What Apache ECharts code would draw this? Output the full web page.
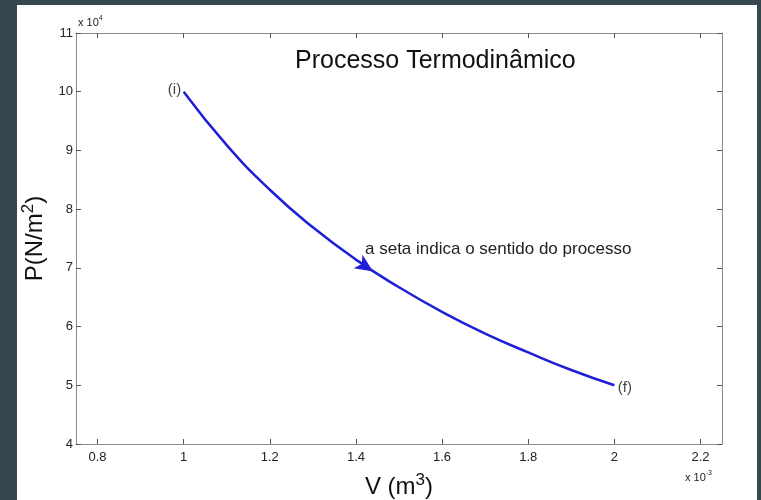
<!DOCTYPE html>
<html>
<head>
<meta charset="utf-8">
<script src="https://cdn.jsdelivr.net/npm/echarts@6/dist/echarts.min.js"></script>
<style>
html,body{margin:0;padding:0;width:761px;height:500px;background:#37474f;overflow:hidden;}
#chart{position:absolute;left:17px;top:5px;width:740px;height:495px;background:#ffffff;}
</style>
</head>
<body>
<div id="chart"></div>
<script>
// Volume in units of 10^-3 m^3, pressure in units of 10^4 N/m^2
const volume = [1.0, 1.1, 1.2, 1.3, 1.4, 1.5, 1.6, 1.7, 1.8, 1.9, 2.0];
const pressure = [10.0, 9.09, 8.33, 7.69, 7.14, 6.67, 6.25, 5.88, 5.56, 5.26, 5.0];
const xTicks = [0.8, 1, 1.2, 1.4, 1.6, 1.8, 2, 2.2];
const yTicks = [4, 5, 6, 7, 8, 9, 10, 11];
const endLabels = ['(i)', '(f)'];
const arrowPoint = [1.44, 6.94];

const FONT = '"Liberation Sans", Arial, sans-serif';
const BLUE = '#1f1fd8';

const lineData = volume.map((v, i) => [v, pressure[i]]);
const last = volume.length - 1;
const endData = [
  { value: [volume[0], pressure[0]], label: { formatter: endLabels[0], position: 'left', distance: 2, offset: [0, -2] } },
  { value: [volume[last], pressure[last]], label: { formatter: endLabels[1], position: 'right', distance: 3, offset: [0, 3] } }
];

const chart = echarts.init(document.getElementById('chart'), null, { renderer: 'canvas' });

const axisLineStyle = { color: '#8a8a8a', width: 1 };
const tickStyle = { color: '#555', width: 1 };

chart.setOption({
  backgroundColor: '#ffffff',
  animation: false,
  textStyle: { fontFamily: FONT },
  title: {
    text: 'Processo Termodinâmico',
    left: 278,
    top: 44,
    padding: 0,
    textStyle: { fontFamily: FONT, fontSize: 25, fontWeight: 'normal', color: '#111' }
  },
  grid: { left: 59, right: 35, top: 28, bottom: 56, show: false, containLabel: false, outerBoundsMode: 'none' },
  xAxis: [
    {
      type: 'value', min: 0.75, max: 2.25, position: 'bottom',
      axisLine: { show: true, onZero: false, lineStyle: axisLineStyle },
      axisTick: { show: true, inside: true, length: 5, customValues: xTicks, lineStyle: tickStyle },
      axisLabel: { customValues: xTicks, color: '#222', fontSize: 13, margin: 7, fontFamily: FONT },
      splitLine: { show: false },
      name: 'V (m{sup|3})',
      nameLocation: 'middle',
      nameGap: 28,
      nameTextStyle: {
        fontFamily: FONT, fontSize: 24, color: '#111',
        rich: { sup: { fontSize: 17, fontFamily: FONT, color: '#111', padding: [0, 0, 14, 0] } }
      }
    },
    {
      type: 'value', min: 0.75, max: 2.25, position: 'top',
      axisLine: { show: true, onZero: false, lineStyle: axisLineStyle },
      axisTick: { show: true, inside: true, length: 5, customValues: xTicks, lineStyle: tickStyle },
      axisLabel: { show: false },
      splitLine: { show: false }
    }
  ],
  yAxis: [
    {
      type: 'value', min: 4, max: 11, interval: 1, position: 'left',
      axisLine: { show: true, onZero: false, lineStyle: axisLineStyle },
      axisTick: { show: true, inside: true, length: 5, lineStyle: tickStyle },
      axisLabel: { color: '#222', fontSize: 13, margin: 3, fontFamily: FONT },
      splitLine: { show: false },
      name: 'P(N/m{sup|2})',
      nameLocation: 'middle',
      nameGap: 24,
      nameTextStyle: {
        fontFamily: FONT, fontSize: 24, color: '#111',
        rich: { sup: { fontSize: 17, fontFamily: FONT, color: '#111', padding: [0, 0, 14, 0] } }
      }
    },
    {
      type: 'value', min: 4, max: 11, interval: 1, position: 'right',
      axisLine: { show: true, onZero: false, lineStyle: axisLineStyle },
      axisTick: { show: true, inside: true, length: 5, lineStyle: tickStyle },
      axisLabel: { show: false },
      splitLine: { show: false }
    }
  ],
  series: [
    {
      type: 'line',
      xAxisIndex: 0, yAxisIndex: 0,
      data: lineData,
      smooth: true,
      showSymbol: false,
      symbol: 'none',
      lineStyle: { color: BLUE, width: 2.5 },
      itemStyle: { color: BLUE },
      emphasis: { disabled: true },
      markPoint: {
        silent: true,
        data: [{
          coord: arrowPoint,
          symbol: 'arrow',
          symbolSize: [12, 18],
          symbolRotate: -123,
          itemStyle: { color: BLUE },
          label: { show: false }
        }]
      }
    },
    {
      type: 'scatter',
      xAxisIndex: 0, yAxisIndex: 0,
      data: endData,
      symbolSize: 1,
      itemStyle: { color: 'rgba(0,0,0,0)' },
      label: { show: true, fontFamily: FONT, fontSize: 15, color: '#111' },
      emphasis: { disabled: true },
      silent: true
    }
  ],
  graphic: [
    {
      type: 'text', left: 61, top: 10,
      style: {
        text: 'x 10{sup|4}', fontFamily: FONT, fontSize: 11, fill: '#222',
        rich: { sup: { fontSize: 7, fontFamily: FONT, fill: '#222', padding: [0, 0, 8, 0] } }
      }
    },
    {
      type: 'text', left: 668, top: 465,
      style: {
        text: 'x 10{sup|-3}', fontFamily: FONT, fontSize: 11, fill: '#222',
        rich: { sup: { fontSize: 7, fontFamily: FONT, fill: '#222', padding: [0, 0, 8, 0] } }
      }
    },
    {
      type: 'text', left: 348, top: 236,
      style: { text: 'a seta indica o sentido do processo', fontFamily: FONT, fontSize: 17, fill: '#222' }
    }
  ]
});
</script>
</body>
</html>
